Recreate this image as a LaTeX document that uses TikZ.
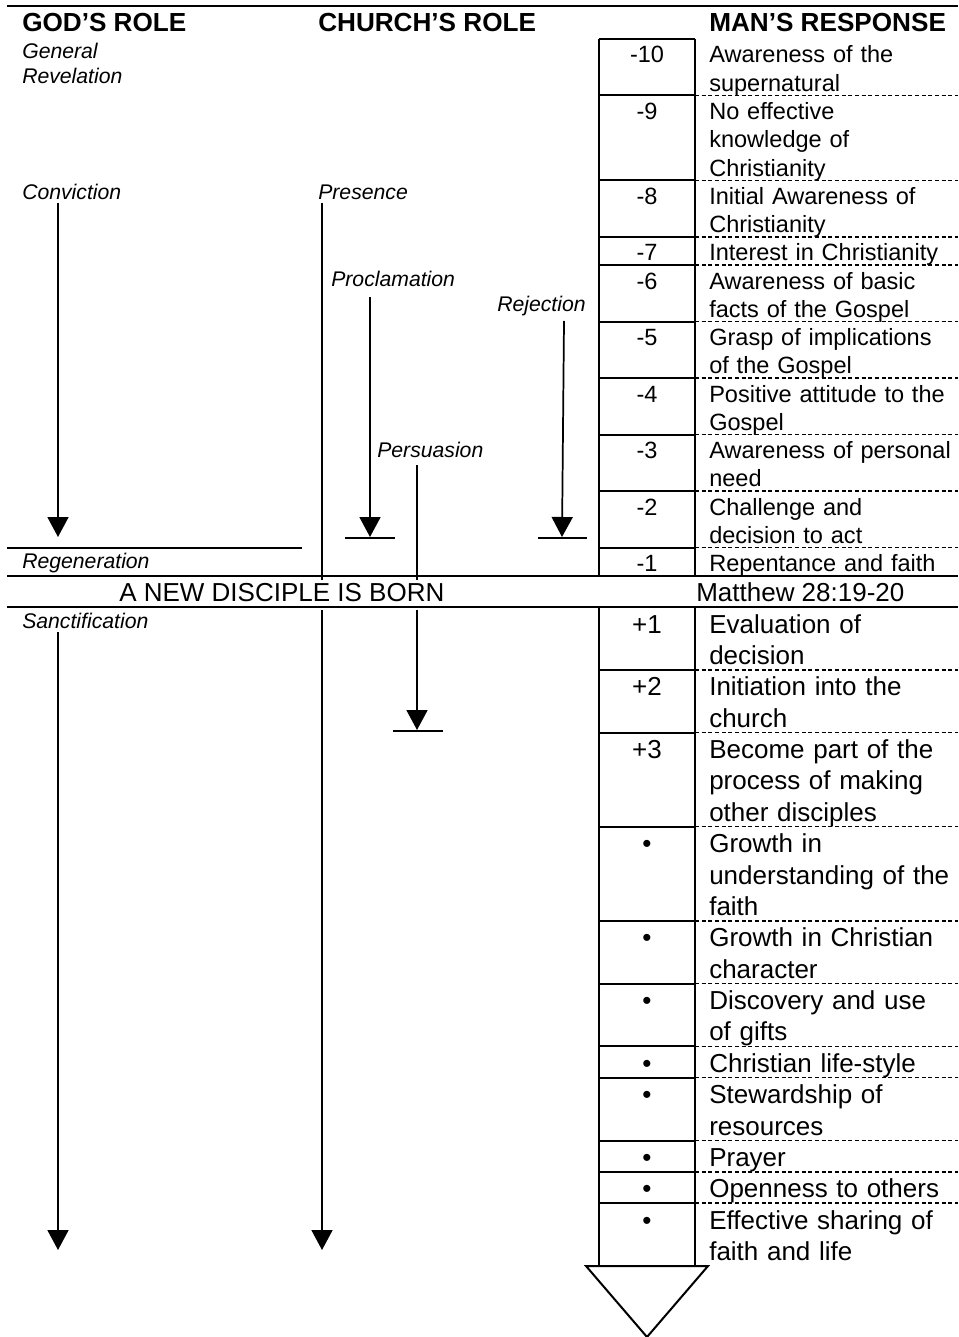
\documentclass[tikz,border=0pt]{standalone}
\usepackage{fontspec}
\setmainfont{Liberation Sans}
\usetikzlibrary{arrows.meta}
\newcommand\myUp{\fontsize{17.65pt}{21.2pt}\selectfont}
\newcommand\myLo{\fontsize{19.5pt}{23.53pt}\selectfont}
\newcommand\myIt{\fontsize{15.9pt}{18.75pt}\selectfont\itshape}
\newcommand\myHd{\fontsize{19.6pt}{23pt}\selectfont\bfseries}
\newcommand\rowU[4]{%
  \node[numU] (#1n) at (647,{#2+24}) {#3};
  \node[txtU] (#1t) at (709,{#2+24}) {#4};}
\newcommand\rowL[4]{%
  \node[numL] (#1n) at (647,{#2+26}) {#3};
  \node[txtL] (#1t) at (709,{#2+26}) {#4};}
\newcommand\sep[1]{%
  \draw[solidl] (599,#1) -- (695,#1);
  \draw[dashl] (695,#1) -- (958,#1);}
\begin{document}
\begin{tikzpicture}[x=0.75pt,y=-0.75pt,
  solidl/.style={line width=1.5pt},
  dashl/.style={line width=1.1pt,dash pattern=on 3pt off 2pt},
  arrl/.style={line width=1.3pt,-{Triangle[width=15.75pt,length=15pt]}},
  barl/.style={line width=1.3pt},
  hdr/.style={anchor=base west,inner sep=0,font=\myHd},
  lab/.style={anchor=base west,inner sep=0,font=\myIt},
  numU/.style={anchor=base,inner sep=0,font=\myUp},
  txtU/.style={anchor=base west,inner sep=0,font=\myUp,text width=220pt,align=left},
  numL/.style={anchor=base,inner sep=0,font=\myLo},
  txtL/.style={anchor=base west,inner sep=0,font=\myLo,text width=220pt,align=left}]
\useasboundingbox (0,0) rectangle (958,1337);

% top rule and headers
\draw[solidl] (7,6) -- (958,6);
\node[hdr] (hgod) at (22,32) {GOD’S ROLE};
\node[hdr] (hchurch) at (318,32) {CHURCH’S ROLE};
\node[hdr] (hman) at (709,32) {MAN’S RESPONSE};

% italic labels
\node[lab] (general) at (22,59) {General};
\node[lab] (revel) at (22,84) {Revelation};
\node[lab] (conv) at (22,200) {Conviction};
\node[lab] (pres) at (318,200) {Presence};
\node[lab] (procl) at (331,287) {Proclamation};
\node[lab] (rej) at (497,311) {Rejection};
\node[lab] (pers) at (377,457) {Persuasion};
\node[lab] (regen) at (22,568) {Regeneration};
\node[lab] (sanct) at (22,628) {Sanctification};

% middle band
\draw[solidl] (7,548) -- (302,548);
\draw[solidl] (7,576) -- (958,576);
\draw[solidl] (7,607) -- (958,607);
\node[anchor=base west,inner sep=0,font=\myLo] (born) at (119,601) {A NEW DISCIPLE IS BORN};
\node[anchor=base west,inner sep=0,font=\myLo] (matt) at (696,601) {Matthew 28:19-20};

% table frame
\draw[solidl] (599,39) -- (695,39);
\draw[solidl] (599,39) -- (599,576);
\draw[solidl] (695,39) -- (695,576);
\draw[solidl] (599,607) -- (599,1266);
\draw[solidl] (695,607) -- (695,1266);

% upper rows
\rowU{m10}{39}{-10}{Awareness of the\\supernatural}
\rowU{m9}{95.5}{-9}{No effective\\knowledge of\\Christianity}
\rowU{m8}{180.3}{-8}{Initial Awareness of\\Christianity}
\rowU{m7}{236.8}{-7}{Interest in Christianity}
\rowU{m6}{265.1}{-6}{Awareness of basic\\facts of the Gospel}
\rowU{m5}{321.6}{-5}{Grasp of implications\\of the Gospel}
\rowU{m4}{378.1}{-4}{Positive attitude to the\\Gospel}
\rowU{m3}{434.6}{-3}{Awareness of personal\\need}
\rowU{m2}{491.2}{-2}{Challenge and\\decision to act}
\rowU{m1}{547.7}{-1}{Repentance and faith}
\sep{95.5}\sep{180.3}\sep{236.8}\sep{265.1}\sep{321.6}
\sep{378.1}\sep{434.6}\sep{491.2}\sep{547.7}

% lower rows
\rowL{p1}{607}{+1}{Evaluation of\\decision}
\rowL{p2}{669.8}{+2}{Initiation into the\\church}
\rowL{p3}{732.5}{+3}{Become part of the\\process of making\\other disciples}
\rowL{b1}{826.7}{•}{Growth in\\understanding of the\\faith}
\rowL{b2}{920.8}{•}{Growth in Christian\\character}
\rowL{b3}{983.6}{•}{Discovery and use\\of gifts}
\rowL{b4}{1046.3}{•}{Christian life-style}
\rowL{b5}{1077.7}{•}{Stewardship of\\resources}
\rowL{b6}{1140.5}{•}{Prayer}
\rowL{b7}{1171.8}{•}{Openness to others}
\rowL{b8}{1203.2}{•}{Effective sharing of\\faith and life}
\sep{669.8}\sep{732.5}\sep{826.7}\sep{920.8}\sep{983.6}
\sep{1046.3}\sep{1077.7}\sep{1140.5}\sep{1171.8}\sep{1203.2}

% bottom triangle
\draw[solidl,fill=white] (586,1266) -- (708,1266) -- (647,1337) -- cycle;

% arrows
\coordinate (convS) at (58,203);   \coordinate (convE) at (58,537);
\coordinate (presS) at (322,203);  \coordinate (presM) at (322,580);
\coordinate (presR) at (322,610);  \coordinate (presE) at (322,1250);
\coordinate (proclS) at (370,297); \coordinate (proclE) at (370,537);
\coordinate (rejS) at (564,321);   \coordinate (rejE) at (562,537);
\coordinate (persS) at (417,465);  \coordinate (persM) at (417,580);
\coordinate (persR) at (417,610);  \coordinate (persE) at (417,730);
\coordinate (sanS) at (58,632);    \coordinate (sanE) at (58,1250);
\draw[arrl] (convS) -- (convE);
\draw[barl] (presS) -- (presM);
\draw[arrl] (presR) -- (presE);
\draw[arrl] (proclS) -- (proclE);
\draw[arrl] (rejS) -- (rejE);
\draw[barl] (persS) -- (persM);
\draw[arrl] (persR) -- (persE);
\draw[arrl] (sanS) -- (sanE);
% stop bars
\coordinate (b1a) at (345,538); \coordinate (b1b) at (395,538);
\coordinate (b2a) at (538,538); \coordinate (b2b) at (587,538);
\coordinate (b3a) at (393,731); \coordinate (b3b) at (443,731);
\draw[barl] (b1a) -- (b1b);
\draw[barl] (b2a) -- (b2b);
\draw[barl] (b3a) -- (b3b);
\end{tikzpicture}
\end{document}
